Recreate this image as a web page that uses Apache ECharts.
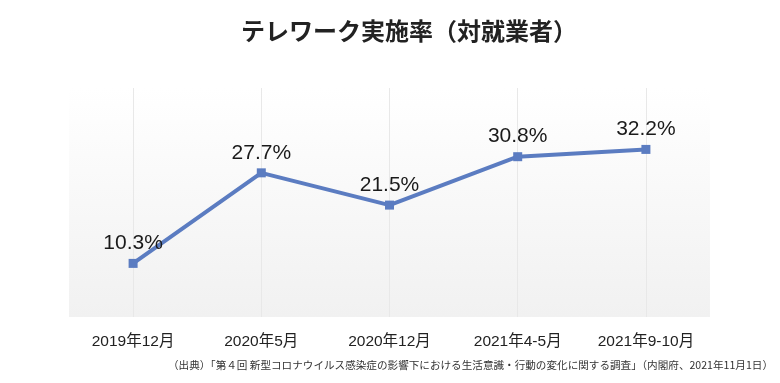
<!DOCTYPE html>
<html>
<head>
<meta charset="utf-8">
<script src="https://cdn.jsdelivr.net/npm/echarts@6/dist/echarts.min.js"></script>
<style>
html,body{margin:0;padding:0;background:#fff;}
#main{width:780px;height:383px;}
</style>
</head>
<body>
<div id="main"></div>
<script>
const titleText = 'テレワーク実施率（対就業者）';
const categories = ['2019年12月', '2020年5月', '2020年12月', '2021年4-5月', '2021年9-10月'];
const values = [10.3, 27.7, 21.5, 30.8, 32.2];
const sourceNote = '（出典）「第４回 新型コロナウイルス感染症の影響下における生活意識・行動の変化に関する調査」（内閣府、2021年11月1日）';

const chart = echarts.init(document.getElementById('main'), null, {renderer: 'canvas'});
const option = {
  backgroundColor: '#ffffff',
  animation: false,
  title: {
    text: titleText,
    left: 236,
    top: 14,
    textStyle: {
      fontFamily: '"Noto Sans CJK JP", sans-serif',
      fontWeight: 'bold',
      fontSize: 24,
      color: '#222222'
    }
  },
  graphic: [{
    type: 'text',
    right: 7,
    top: 360,
    style: {
      text: sourceNote,
      fontFamily: '"Noto Sans CJK JP", sans-serif',
      fontSize: 10.6,
      fill: '#333333'
    }
  }],
  grid: {
    left: 69,
    right: 70,
    top: 88,
    bottom: 66,
    show: true,
    borderWidth: 0,
    backgroundColor: new echarts.graphic.LinearGradient(0, 0, 0, 1, [
      {offset: 0, color: '#ffffff'},
      {offset: 1, color: '#f1f1f1'}
    ])
  },
  xAxis: {
    type: 'category',
    data: categories,
    boundaryGap: true,
    axisLine: {show: false},
    axisTick: {show: false},
    splitLine: {show: false},
    axisLabel: {
      interval: 0,
      hideOverlap: false,
      margin: 17,
      fontFamily: '"Liberation Sans", Arial, "Noto Sans CJK JP", sans-serif',
      fontSize: 15.5,
      color: '#222222'
    }
  },
  yAxis: {
    type: 'value',
    min: 0,
    max: 44,
    show: false,
    splitLine: {show: false}
  },
  series: [{
    type: 'line',
    data: values,
    symbol: 'rect',
    symbolSize: 9,
    lineStyle: {color: '#5b7cc1', width: 4},
    itemStyle: {color: '#5b7cc1'},
    label: {
      show: true,
      position: 'top',
      distance: 5,
      formatter: p => p.value.toFixed(1) + '%',
      fontFamily: '"Liberation Sans", Arial, sans-serif',
      fontSize: 21,
      color: '#1a1a1a'
    },
    markLine: {
      silent: true,
      symbol: ['none', 'none'],
      label: {show: false},
      lineStyle: {color: '#e8e8e8', width: 1, type: 'solid'},
      z: 1,
      data: categories.map(c => ({xAxis: c}))
    },
    z: 3
  }]
};
chart.setOption(option);
</script>
</body>
</html>
